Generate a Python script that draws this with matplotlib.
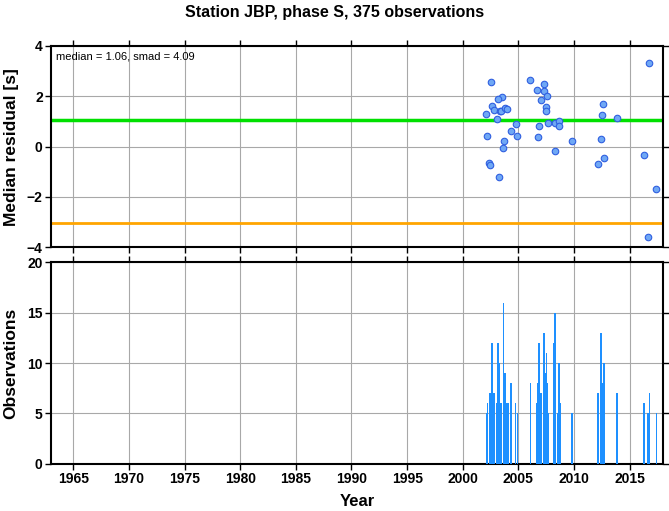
import matplotlib
matplotlib.use("Agg")
import matplotlib.pyplot as plt

plt.rcParams['font.family'] = ['Liberation Sans', 'DejaVu Sans']

# residual points (year, median residual)
res_years = [2016.77, 2002.54, 2006.08, 2007.34, 2006.68, 2007.28, 2003.56, 2003.14,
             2007.60, 2007.01, 2012.57, 2002.63, 2002.78, 2003.32, 2003.47, 2003.83,
             2004.01, 2007.51, 2007.45, 2002.13, 2012.49, 2013.86, 2003.08, 2004.76,
             2007.66, 2008.26, 2008.68, 2008.65, 2006.86, 2004.31, 2002.22, 2004.91,
             2006.77, 2003.74, 2003.62, 2009.82, 2012.40, 2008.29, 2016.29, 2012.66,
             2002.40, 2002.49, 2012.19, 2003.23, 2017.40, 2016.65]
res_values = [3.31, 2.56, 2.64, 2.48, 2.24, 2.23, 1.97, 1.89,
              2.00, 1.84, 1.70, 1.63, 1.46, 1.40, 1.42, 1.52,
              1.50, 1.56, 1.40, 1.28, 1.25, 1.15, 1.10, 0.90,
              0.93, 0.94, 1.03, 0.81, 0.83, 0.61, 0.41, 0.42,
              0.40, 0.21, -0.04, 0.21, 0.30, -0.19, -0.32, -0.45,
              -0.65, -0.73, -0.68, -1.22, -1.70, -3.60]

# observation counts
obs_years = [2002.13, 2002.22, 2002.43, 2002.54, 2002.63, 2002.69, 2002.81, 2003.02,
             2003.14, 2003.20, 2003.29, 2003.38, 2003.47, 2003.65, 2003.80, 2003.95,
             2004.04, 2004.31, 2004.73, 2004.91, 2006.08, 2006.65, 2006.74, 2006.86,
             2007.01, 2007.28, 2007.34, 2007.43, 2007.51, 2007.60, 2007.66, 2008.17,
             2008.29, 2008.53, 2008.62, 2008.71, 2009.82, 2012.16, 2012.40, 2012.49,
             2012.57, 2012.66, 2013.86, 2016.29, 2016.65, 2016.77, 2017.40]
obs_counts = [5, 6, 7, 7, 12, 6, 7, 6,
              12, 10, 10, 6, 6, 16, 9, 6,
              6, 8, 6, 5, 8, 6, 8, 12,
              7, 13, 5, 9, 11, 8, 5, 12,
              15, 5, 10, 6, 5, 7, 13, 8,
              5, 10, 7, 6, 5, 7, 5]

median = 1.06
smad = 4.09

fig = plt.figure(figsize=(6.69, 5.11), dpi=100)
ax1 = fig.add_axes([0.0762, 0.516, 0.915, 0.394])
ax2 = fig.add_axes([0.0762, 0.0926, 0.915, 0.394])

for ax in (ax1, ax2):
    ax.set_xlim(1963, 2018)
    ax.set_xticks(range(1965, 2016, 5))
    ax.grid(True, color="#a8a8a8", linewidth=0.8)
    ax.set_axisbelow(True)
    ax.tick_params(direction="out", top=True, right=True, length=4, width=1,
                   labelsize=10, pad=2)
    for s in ax.spines.values():
        s.set_linewidth(1.5)

ax1.axhline(median, color="#00e000", linewidth=2.5, zorder=2)
ax1.axhline(median - smad, color="#ffa500", linewidth=2, zorder=2)
ax1.scatter(res_years, res_values, s=22, facecolor="#6fa8f5", edgecolor="#2f5fe0",
            linewidth=0.8, zorder=3)
ax1.set_ylim(-4, 4)
ax1.set_yticks([-4, -2, 0, 2, 4])
ax1.tick_params(labelbottom=False)
ax1.set_ylabel("Median residual [s]", fontsize=12.5, fontweight="bold")
ax1.yaxis.set_label_coords(-0.053, 0.5)
ax1.text(0.008, 0.975, f"median = {median:.2f}, smad = {smad:.2f}", transform=ax1.transAxes,
         fontsize=8, va="top", ha="left")
fig.text(0.5, 0.976, "Station JBP, phase S, 375 observations", fontsize=11.5,
         fontweight="bold", ha="center", va="center")
for lab in ax1.get_yticklabels():
    lab.set_fontweight("bold")

ax2.bar(obs_years, obs_counts, width=0.15, color="#1e90ff", zorder=3)
ax2.set_ylim(0, 20)
ax2.set_yticks([0, 5, 10, 15, 20])
ax2.set_ylabel("Observations", fontsize=12.5, fontweight="bold")
ax2.yaxis.set_label_coords(-0.053, 0.5)
ax2.set_xlabel("Year", fontsize=12, fontweight="bold", labelpad=6)
for lab in ax2.get_xticklabels() + ax2.get_yticklabels():
    lab.set_fontweight("bold")

fig.savefig("out.png", dpi=100)
